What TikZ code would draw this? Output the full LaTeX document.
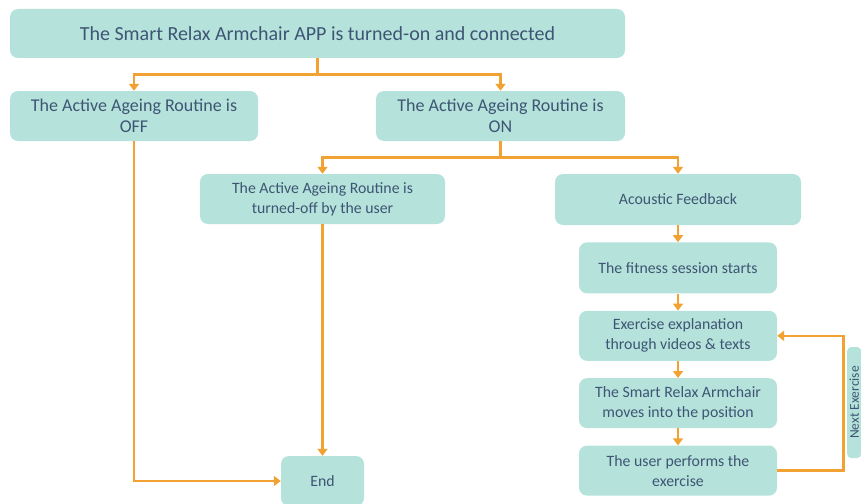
\documentclass[tikz,border=0pt]{standalone}
\usepackage{fontspec}
\setmainfont{Carlito}
\usetikzlibrary{positioning,arrows.meta}

\definecolor{boxfill}{HTML}{B5E2DB}
\definecolor{boxtext}{HTML}{3E5573}
\definecolor{flow}{HTML}{F2A232}

\tikzset{
  stepbox/.style={rectangle, rounded corners=8pt, fill=boxfill, text=boxtext,
    align=center, inner sep=0pt, font=\fontsize{15.8}{20}\selectfont},
  flowline/.style={draw=flow, line width=2.6pt},
  flowarrow/.style={flowline, -{Triangle[width=10pt,length=7pt]}}
}

\begin{document}
\begin{tikzpicture}[x=1pt, y=-1pt]
  \useasboundingbox (0,0) rectangle (861,503);

  % Define nodes
  \node[stepbox, minimum width=615pt, minimum height=49pt,
        font=\fontsize{20}{24}\selectfont]            (app)  at (317.5,33.5) {The Smart Relax Armchair APP is turned-on and connected};
  \node[stepbox, minimum width=248pt, minimum height=50pt,
        font=\fontsize{18}{21}\selectfont]            (off)  at (134,116)    {The Active Ageing Routine is\\OFF};
  \node[stepbox, minimum width=249pt, minimum height=50pt,
        font=\fontsize{18}{21}\selectfont]            (on)   at (500.5,116)  {The Active Ageing Routine is\\ON};
  \node[stepbox, minimum width=245pt, minimum height=50pt] (user) at (322.5,199) {The Active Ageing Routine is\\turned-off by the user};
  \node[stepbox, minimum width=246pt, minimum height=51pt] (sound) at (678,199.5) {Acoustic Feedback};
  \node[stepbox, minimum width=198pt, minimum height=51pt, below=17pt of sound] (start) {The fitness session starts};
  \node[stepbox, minimum width=198pt, minimum height=50pt, below=17pt of start] (expl)  {Exercise explanation\\through videos \& texts};
  \node[stepbox, minimum width=198pt, minimum height=50pt, below=17pt of expl]  (move)  {The Smart Relax Armchair\\moves into the position};
  \node[stepbox, minimum width=198pt, minimum height=50pt, below=17pt of move]  (perf)  {The user performs the\\exercise};
  \node[stepbox, minimum width=83pt, minimum height=50pt]  (end)  at (322.5,481) {End};
  \node[stepbox, minimum width=111pt, minimum height=14pt, rounded corners=4pt,
        rotate=90, anchor=north, font=\fontsize{13.5}{14}\selectfont] (next) at (847,402.5) {Next Exercise};

  % Connect the nodes
  \draw[flowarrow] (app.south) |- ++(0,16) -| (off.north);
  \draw[flowarrow] (app.south) |- ++(0,16) -| (on.north);
  \draw[flowarrow] (on.south)  |- ++(0,16) -| (user.north);
  \draw[flowarrow] (on.south)  |- ++(0,16) -| (sound.north);
  \draw[flowarrow] (off.south) |- (end.west);
  \draw[flowarrow] (user) -- (end);
  \draw[flowarrow] (sound) -- (start);
  \draw[flowarrow] (start) -- (expl);
  \draw[flowarrow] (expl) -- (move);
  \draw[flowarrow] (move) -- (perf);
  \draw[flowarrow] (perf.east) -- ++(66,0) |- (expl.east);

\end{tikzpicture}
\end{document}
